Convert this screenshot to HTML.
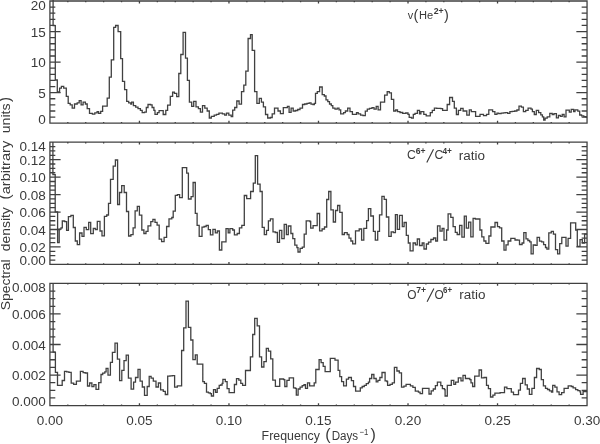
<!DOCTYPE html>
<html><head><meta charset="utf-8"><style>
html,body{margin:0;padding:0;background:#fff;overflow:hidden;}
svg{display:block;font-family:"Liberation Sans",sans-serif;will-change:transform;}
</style></head><body>
<svg width="600" height="444" viewBox="0 0 600 444">
<rect width="600" height="444" fill="#fff"/>
<g fill="none" stroke="#404040" stroke-width="1.3" stroke-linejoin="miter" stroke-linecap="butt">
<path d="M49.92 1.0H587.05V123.20H49.92ZM49.92 117.09L55.32 117.09M587.05 117.09L581.65 117.09M49.92 110.98L55.32 110.98M587.05 110.98L581.65 110.98M49.92 104.87L55.32 104.87M587.05 104.87L581.65 104.87M49.92 98.76L55.32 98.76M587.05 98.76L581.65 98.76M49.92 92.65L60.62 92.65M587.05 92.65L576.35 92.65M49.92 86.54L55.32 86.54M587.05 86.54L581.65 86.54M49.92 80.43L55.32 80.43M587.05 80.43L581.65 80.43M49.92 74.32L55.32 74.32M587.05 74.32L581.65 74.32M49.92 68.21L55.32 68.21M587.05 68.21L581.65 68.21M49.92 62.10L60.62 62.10M587.05 62.10L576.35 62.10M49.92 55.99L55.32 55.99M587.05 55.99L581.65 55.99M49.92 49.88L55.32 49.88M587.05 49.88L581.65 49.88M49.92 43.77L55.32 43.77M587.05 43.77L581.65 43.77M49.92 37.66L55.32 37.66M587.05 37.66L581.65 37.66M49.92 31.55L60.62 31.55M587.05 31.55L576.35 31.55M49.92 25.44L55.32 25.44M587.05 25.44L581.65 25.44M49.92 19.33L55.32 19.33M587.05 19.33L581.65 19.33M49.92 13.22L55.32 13.22M587.05 13.22L581.65 13.22M49.92 7.11L55.32 7.11M587.05 7.11L581.65 7.11M67.82 123.20L67.82 122.00M67.82 1.00L67.82 2.20M85.73 123.20L85.73 122.00M85.73 1.00L85.73 2.20M103.63 123.20L103.63 122.00M103.63 1.00L103.63 2.20M121.54 123.20L121.54 122.00M121.54 1.00L121.54 2.20M139.44 123.20L139.44 120.80M139.44 1.00L139.44 3.40M157.35 123.20L157.35 122.00M157.35 1.00L157.35 2.20M175.25 123.20L175.25 122.00M175.25 1.00L175.25 2.20M193.15 123.20L193.15 122.00M193.15 1.00L193.15 2.20M211.06 123.20L211.06 122.00M211.06 1.00L211.06 2.20M228.96 123.20L228.96 120.80M228.96 1.00L228.96 3.40M246.87 123.20L246.87 122.00M246.87 1.00L246.87 2.20M264.77 123.20L264.77 122.00M264.77 1.00L264.77 2.20M282.68 123.20L282.68 122.00M282.68 1.00L282.68 2.20M300.58 123.20L300.58 122.00M300.58 1.00L300.58 2.20M318.49 123.20L318.49 120.80M318.49 1.00L318.49 3.40M336.39 123.20L336.39 122.00M336.39 1.00L336.39 2.20M354.29 123.20L354.29 122.00M354.29 1.00L354.29 2.20M372.20 123.20L372.20 122.00M372.20 1.00L372.20 2.20M390.10 123.20L390.10 122.00M390.10 1.00L390.10 2.20M408.01 123.20L408.01 120.80M408.01 1.00L408.01 3.40M425.91 123.20L425.91 122.00M425.91 1.00L425.91 2.20M443.82 123.20L443.82 122.00M443.82 1.00L443.82 2.20M461.72 123.20L461.72 122.00M461.72 1.00L461.72 2.20M479.62 123.20L479.62 122.00M479.62 1.00L479.62 2.20M497.53 123.20L497.53 120.80M497.53 1.00L497.53 3.40M515.43 123.20L515.43 122.00M515.43 1.00L515.43 2.20M533.34 123.20L533.34 122.00M533.34 1.00L533.34 2.20M551.24 123.20L551.24 122.00M551.24 1.00L551.24 2.20M569.15 123.20L569.15 122.00M569.15 1.00L569.15 2.20M49.92 142.2H587.05V264.40H49.92ZM49.92 260.04L55.32 260.04M587.05 260.04L581.65 260.04M49.92 255.67L55.32 255.67M587.05 255.67L581.65 255.67M49.92 251.31L55.32 251.31M587.05 251.31L581.65 251.31M49.92 246.94L60.62 246.94M587.05 246.94L576.35 246.94M49.92 242.58L55.32 242.58M587.05 242.58L581.65 242.58M49.92 238.21L55.32 238.21M587.05 238.21L581.65 238.21M49.92 233.85L55.32 233.85M587.05 233.85L581.65 233.85M49.92 229.49L60.62 229.49M587.05 229.49L576.35 229.49M49.92 225.12L55.32 225.12M587.05 225.12L581.65 225.12M49.92 220.76L55.32 220.76M587.05 220.76L581.65 220.76M49.92 216.39L55.32 216.39M587.05 216.39L581.65 216.39M49.92 212.03L60.62 212.03M587.05 212.03L576.35 212.03M49.92 207.66L55.32 207.66M587.05 207.66L581.65 207.66M49.92 203.30L55.32 203.30M587.05 203.30L581.65 203.30M49.92 198.94L55.32 198.94M587.05 198.94L581.65 198.94M49.92 194.57L60.62 194.57M587.05 194.57L576.35 194.57M49.92 190.21L55.32 190.21M587.05 190.21L581.65 190.21M49.92 185.84L55.32 185.84M587.05 185.84L581.65 185.84M49.92 181.48L55.32 181.48M587.05 181.48L581.65 181.48M49.92 177.11L60.62 177.11M587.05 177.11L576.35 177.11M49.92 172.75L55.32 172.75M587.05 172.75L581.65 172.75M49.92 168.39L55.32 168.39M587.05 168.39L581.65 168.39M49.92 164.02L55.32 164.02M587.05 164.02L581.65 164.02M49.92 159.66L60.62 159.66M587.05 159.66L576.35 159.66M49.92 155.29L55.32 155.29M587.05 155.29L581.65 155.29M49.92 150.93L55.32 150.93M587.05 150.93L581.65 150.93M49.92 146.56L55.32 146.56M587.05 146.56L581.65 146.56M67.82 264.40L67.82 263.20M67.82 142.20L67.82 143.40M85.73 264.40L85.73 263.20M85.73 142.20L85.73 143.40M103.63 264.40L103.63 263.20M103.63 142.20L103.63 143.40M121.54 264.40L121.54 263.20M121.54 142.20L121.54 143.40M139.44 264.40L139.44 262.00M139.44 142.20L139.44 144.60M157.35 264.40L157.35 263.20M157.35 142.20L157.35 143.40M175.25 264.40L175.25 263.20M175.25 142.20L175.25 143.40M193.15 264.40L193.15 263.20M193.15 142.20L193.15 143.40M211.06 264.40L211.06 263.20M211.06 142.20L211.06 143.40M228.96 264.40L228.96 262.00M228.96 142.20L228.96 144.60M246.87 264.40L246.87 263.20M246.87 142.20L246.87 143.40M264.77 264.40L264.77 263.20M264.77 142.20L264.77 143.40M282.68 264.40L282.68 263.20M282.68 142.20L282.68 143.40M300.58 264.40L300.58 263.20M300.58 142.20L300.58 143.40M318.49 264.40L318.49 262.00M318.49 142.20L318.49 144.60M336.39 264.40L336.39 263.20M336.39 142.20L336.39 143.40M354.29 264.40L354.29 263.20M354.29 142.20L354.29 143.40M372.20 264.40L372.20 263.20M372.20 142.20L372.20 143.40M390.10 264.40L390.10 263.20M390.10 142.20L390.10 143.40M408.01 264.40L408.01 262.00M408.01 142.20L408.01 144.60M425.91 264.40L425.91 263.20M425.91 142.20L425.91 143.40M443.82 264.40L443.82 263.20M443.82 142.20L443.82 143.40M461.72 264.40L461.72 263.20M461.72 142.20L461.72 143.40M479.62 264.40L479.62 263.20M479.62 142.20L479.62 143.40M497.53 264.40L497.53 262.00M497.53 142.20L497.53 144.60M515.43 264.40L515.43 263.20M515.43 142.20L515.43 143.40M533.34 264.40L533.34 263.20M533.34 142.20L533.34 143.40M551.24 264.40L551.24 263.20M551.24 142.20L551.24 143.40M569.15 264.40L569.15 263.20M569.15 142.20L569.15 143.40M49.92 283.4H587.05V405.60H49.92ZM49.92 397.96L55.32 397.96M587.05 397.96L581.65 397.96M49.92 390.32L55.32 390.32M587.05 390.32L581.65 390.32M49.92 382.69L55.32 382.69M587.05 382.69L581.65 382.69M49.92 375.05L60.62 375.05M587.05 375.05L576.35 375.05M49.92 367.41L55.32 367.41M587.05 367.41L581.65 367.41M49.92 359.77L55.32 359.77M587.05 359.77L581.65 359.77M49.92 352.14L55.32 352.14M587.05 352.14L581.65 352.14M49.92 344.50L60.62 344.50M587.05 344.50L576.35 344.50M49.92 336.86L55.32 336.86M587.05 336.86L581.65 336.86M49.92 329.22L55.32 329.22M587.05 329.22L581.65 329.22M49.92 321.59L55.32 321.59M587.05 321.59L581.65 321.59M49.92 313.95L60.62 313.95M587.05 313.95L576.35 313.95M49.92 306.31L55.32 306.31M587.05 306.31L581.65 306.31M49.92 298.67L55.32 298.67M587.05 298.67L581.65 298.67M49.92 291.04L55.32 291.04M587.05 291.04L581.65 291.04M67.82 405.60L67.82 404.40M67.82 283.40L67.82 284.60M85.73 405.60L85.73 404.40M85.73 283.40L85.73 284.60M103.63 405.60L103.63 404.40M103.63 283.40L103.63 284.60M121.54 405.60L121.54 404.40M121.54 283.40L121.54 284.60M139.44 405.60L139.44 403.20M139.44 283.40L139.44 285.80M157.35 405.60L157.35 404.40M157.35 283.40L157.35 284.60M175.25 405.60L175.25 404.40M175.25 283.40L175.25 284.60M193.15 405.60L193.15 404.40M193.15 283.40L193.15 284.60M211.06 405.60L211.06 404.40M211.06 283.40L211.06 284.60M228.96 405.60L228.96 403.20M228.96 283.40L228.96 285.80M246.87 405.60L246.87 404.40M246.87 283.40L246.87 284.60M264.77 405.60L264.77 404.40M264.77 283.40L264.77 284.60M282.68 405.60L282.68 404.40M282.68 283.40L282.68 284.60M300.58 405.60L300.58 404.40M300.58 283.40L300.58 284.60M318.49 405.60L318.49 403.20M318.49 283.40L318.49 285.80M336.39 405.60L336.39 404.40M336.39 283.40L336.39 284.60M354.29 405.60L354.29 404.40M354.29 283.40L354.29 284.60M372.20 405.60L372.20 404.40M372.20 283.40L372.20 284.60M390.10 405.60L390.10 404.40M390.10 283.40L390.10 284.60M408.01 405.60L408.01 403.20M408.01 283.40L408.01 285.80M425.91 405.60L425.91 404.40M425.91 283.40L425.91 284.60M443.82 405.60L443.82 404.40M443.82 283.40L443.82 284.60M461.72 405.60L461.72 404.40M461.72 283.40L461.72 284.60M479.62 405.60L479.62 404.40M479.62 283.40L479.62 284.60M497.53 405.60L497.53 403.20M497.53 283.40L497.53 285.80M515.43 405.60L515.43 404.40M515.43 283.40L515.43 284.60M533.34 405.60L533.34 404.40M533.34 283.40L533.34 284.60M551.24 405.60L551.24 404.40M551.24 283.40L551.24 284.60M569.15 405.60L569.15 404.40M569.15 283.40L569.15 284.60"/>
<path d="M53.1 0.0V25.7H55.3V80H57.3V92H59.6V88.2H61.4V86.4H63.7V88.2H66.3V96.4H68.2V103.4H70.2V104.9H72.2V108.1H74.5V104H77.2V102.8H79.2V100.7H81.1V104.9H83.1V102.2H85.4V104H87.2V108.7H89.5V113.4H92.4V114.2H94.8V112.8H97.1V111.6H98.6V113.4H100.7V111.3H102.6V106.2H107.2V98.2H109.3V77.2H111.3V59.8H113.7V27.3H115.6V25.5H118.1V31.7H120.7V58.6H122.5V81.4H124.6V89.7H126.7V101.4H128.7V102.8H130.8V104.2H131.6V102.2H133.4V105.7H135.7V107.2H138V108.6H140.4V110.4H142.2V112.7H144.5V112.2H146.3V107.5H148V104.5H150.6V104.8H152.1V107.5H153.9V110.4H155V114.3H157.4V112.7H159.1V110.7H163.2V114.5H165.8V110.4H167.6V105.1H170.3V96.3H172.6V92.2H174.4V93.4H176.7V96.7H178.8V73.5H180.8V54.5H183.1V32.3H185.5V58.1H187.4V80.3H189.4V102.2H191.7V106.3H193.7V101.4H196V106.9H198.4V108.6H200.4V112.2H202.5V105.7H204.8V108.1H207.2V111H209.3V118H211.3V116.3H214.2V115.1H216.5V114.3H218.9V113.1H222.4V113.9H224.7V115.1H226.5V113.1H228.8V115.1H231.2V116.6H232.7V110.2H234.7V107.5H236.8V101H239.1V104.2H241.5V91.7H243.8V85.2H245.8V71.2H248.1V38.5H250.5V34.6H252.2V50.4H254.6V91.7H256.9V103.4H259.3V98.3H261.4V102.2H263.4V106.9H265.5V114.5H267.7V118H270.4V117.5H272.2V113.9H274.5V108.1H278V111H280.4V113.6H283.3V107.7H287.4V106.3H289.1V112.4H291.1V108.1H293.2V111H295.5V110.5H297.7V109.5H300V108.1H302.5V104.5H304.7V104H307V103.3H309.2V102.8H311V104.2H313V104.5H314.4V103.4H315.5V93.4H317.3V91.7H319.6V87H322.2V94.6H324.3V96H326V99.9H327.8V101.6H329.5V104H331.3V105.7H332.8V108.1H335V109.2H337.2V108.1H339V109.8H340.7V113.9H343.6V112.7H345.4V111H347.7V108.1H350V111.6H352.4V114.3H356.5V112.7H358.2V113.9H360.6V115.1H363V115.7H365.3V111.2H367.3V109.2H369.5V108.4H372V107.7H374V109.2H376.2V106.3H378.1V109.8H380.5V102.2H384.6V95.2H387.2V91.7H389.3V92.8H391.4V99.3H393.7V111H395.7V110H397.5V111.6H400V112.5H402.7V113.3H405.7V113H408V114.3H409.2V117.4H411.5V118.2H413.3V114.3H415V113.3H417.4V110.4H419.5V113.9H420.9V111.6H423.8V114.3H426.2V115.9H430.3V112.7H432.3V110.4H434.4V108.1H436.7V108.4H440.8V108.6H442.6V110.4H447.2V104.5H449.6V97.5H452.5V101.4H454.3V108.1H456.4V114.5H458.4V110.4H460.7V108.4H463.1V111H466.8V115.1H469.3V109.8H471.3V111.6H475.6V116.3H480V114.3H483.5V115.7H486.5V114.3H488.8V109.8H492.6V111.6H494.9V114.3H497V113.1H498.8V113.6H501.1V113.1H503.3V112.8H505.2V112.7H507.6V113.3H509.9V111.6H512.2V111.3H514.6V111H516.9V110H519V106.1H521.4V107.2H523.4V111.6H525.7V110.4H528.1V108.1H531V109.2H532.4V111.6H534.3V114.5H536.3V110.4H538.6V112.7H540.8V114.8H542.4V116.8H543.7V120H545.1V118.2H547.2V116.9H549.8V113.3H552.2V114.5H554V113.7H556.4V117.9H558.4V115.3H560.3V116.4H562.2V114.5H564.1V116.9H566V110.2H569.3V112.1H571.2V109.3H573.6V111.7H575V109.8H577.8V111.2H579.7V115H581.6V115.9H583.8V116.6H586.3V117.3H587.1"/><path d="M52.9 142.1V174.6H55.2V211.8H57.6V242.7H59.2V229.1H61V227.8H62.3V221H64.7V221.6H66.6V230.3H68.4V216.7H70.9V215.4H73.3V227.5H75.3V241H77.3V244.7H79.6V233H82V236.3H84V227.4H86.3V229.7H88.7V222.3H90.7V233.7H93.3V228.3H95.3V229.5H97.3V221.3H100V231H102V235.9H104.4V216.3H106.7V215H108.5V203.4H110.5V179.3H113.2V166.1H115.4V160H117.6V204.5H119.5V192.5H121.7V185.6H124.2V192.5H126.5V211.5H128.6V236H130.9V234.6H133.1V227.9H135.1V210.9H137.3V206.3H139.4V215.1H141.8V230H143.9V233.5H146V231.4H148V225.8H150.8V221.6H152.9V219.3H155V222.3H157.1V225.1H159.2V239.1H161.6V241.6H164.1V237.4H166.6V226.5H169V218.9H171.8V217.5H173.2V211.2H175.3V195.4H177.4V194.7H179.6V197.6H182.3V167.6H186.7V173.1H188.4V199H191.1V196.6H193.1V182.5H195.3V213.4H197.1V225.4H199.2V236.3H202V227.2H204.1V226.5H206.2V225.4H208.3V229.6H210.4V234.9H212.9V229.3H215.3V232.8H217.3V231H219.4V250H221.8V241.9H226V228.6H228.2V232.8H229.9V228.6H232.7V230H234.4V234.9H237.2V233.5H239.4V227.9H241.8V225.4H244.3V195.5H246.7V198.6H250.6V191.5H253.3V183.2H255.3V155.6H257.6V184.1H260.1V191.5H262.2V227.3H264.3V234.6H266.5V230.4H268.4V220.8H270.4V218.9H273V231.9H275.3V232.5H277.4V242.3H279.5V230.3H281.8V238.7H284.2V224.4H286.4V234.6H288.3V226H290.9V233.5H292.8V238.7H294.8V245.2H296.9V247.6H298V252H300.1V248.4H302.3V247.1H304.2V234.2H306.2V220.8H309.9V221.5H310.7V228.1H313.1V225.7H317.2V213.5H319.6V230.9H322.1V229H324.5V227H326.7V199.5H328.7V191.5H330.9V209.8H333.3V222H335.5V210.5H337.6V205.5H339.8V212.3H342.2V234.5H344.4V232.7H347.2V234.5H349V238.2H350.9V241H352.7V243.8H355.5V230.8H359.2V229H361.6V240.1H363.8V228.4H366.6V220.7H368.4V208.7H370.8V216H373.4V231.4H375.3V240.1H377.7V231.4H379.5V214.8H381.9V196.3H384.2V199.4H386.4V217H388.8V236.4H391.2V231.8H393.4V232.7H395.4V214.6H397.3V229.4H399.5V215.4H402.3V226.7H404.1V222.5H406.3V235.4H408.3V243H410.1V250.8H413.1V243H415.4V244.8H417.3V239H419.5V245.5H422.2V243H424V249H426.4V244H428.5V242.1H430.9V239.5H433.5V238H435.7V241H437.5V225.9H440V231.2H442.1V228.5H444V240.2H446.6V230H448.1V213.9H450.8V217.3H453.1V226.7H455.3V232.4H457.2V234.5H459.6V225.4H461.9V237.2H464.3V216.1H466.3V228.2H468.6V222.1H470.8V236.9H473.1V218.4H475.3V219H479.9V230H481.8V236.9H483.9V241H485.9V243.3H488.9V236H490.9V227H495V222.5H497.5V226.7H499.5V227.9H501.7V241H504V250.1H506V244.8H508.1V241H510.8V238.4H515V240H517.6V240.2H519.5V244.5H522.1V243H523.8V232.6H526V238.8H527.9V240.5H529.7V241.9H531.1V253.8H533.2V245H535.3V245.4H537.1V237.4H539.5V241.2H541.6V241.9H543.6V244.7H545.5V247.5H546.9V249.2H548.8V232.8H551.3V231.4H553.4V234.2H555.5V249.6H557.6V253.8H559.7V243.6H561.8V237.4H566V246.1H568.1V238.4H570.6V222.8H575.7V230.1H577.3V246.4H580V239.7H582.3V243H584.6V234.2H587.1"/><path d="M53.1 283.4V352.2H55.4V372.4H57.5V385.3H62.2V380.5H64.5V371.4H66.7V371.8H68.9V372.4H71.2V383.2H73.7V384.3H76.4V381.2H80.4V371.4H83.1V372.7H85.2V373H87.5V386H89.6V383H91.9V386.6H93.9V384.6H96V389.3H98.7V382.6H101V374.5H102.7V373.1H104.8V371.8H106.1V368.4H108V375.2H110.4V362.4H112.4V352.4H115V343.1H117.4V359.2H119.6V380.7H121.8V370.4H124V360.6H126.2V355.2H128.4V378.2H131.1V389.2H133.6V382.1H135.5V377.5H138V369.4H140.1V381.1H142.3V387H144.5V395.3H147.2V386.5H149.2V376.3H151.1V378.2H153.3V381.1H156V387H158.4V383H160.6V389.9H163.3V391.4H165.3V394.5H167.7V376.2H170V375.8H172.3V375.6H174.6V387.1H177.3V385.9H181.6V350.5H183.7V327.8H186V301.2H188.4V327.4H190.8V340H192.9V359.6H195.3V354.9H197.2V364.2H202.8V381.6H204.4V383.4H206.5V392.1H208.4V392.8H210.2V393.6H211.4V396H213.5V389.6H215.5V392.3H217.2V388.4H219.2V385.3H220.6V385H222.1V383.4H222.9V379.3H225.3V381.6H227.1V388.6H229.1V392.7H234.4V384.5H236.5V378.7H238.8V380.2H240.8V383.4H242.6V385.4H245.5V370.5H250.4V356.9H252.7V334.5H254.7V318.4H257.2V325.8H259.5V356.9H261.6V367H263.9V361.7H266.3V348.3H268.4V351.1H270.7V358.8H272.8V380.2H275.4V386.3H279.7V379H283.6V379.6H284.8V386.5H286.9V380.3H289.2V377.8H293.5V387.8H295.3V388.4H296.3V395.2H298.1V389H300.1V387.1H302.2V385.6H304V384.7H305.5V388.4H307.5V382.8H309.6V385.9H314.2V382.8H315.8V369.5H319.1V359.6H321.1V362.6H323.2V366.3H325.1V371.6H330.3V358.4H335V360.1H338.1V370.4H339.8V376.6H341.6V381.6H343.6V385.9H346.4V379.1H348.5V377.5H351.4V380.7H353.5V386.5H355.6V391.1H360.3V387.8H362.2V386.5H364.3V385.3H366.3V383.7H368.4V382.2H369.6V378.5H371.7V374.5H373.9V378.5H376.2V381.9H377.9V380.3H379.9V377.5H382V372.5H385.1V380.9H386.9V381.5H387.6V385.3H390V384.4H392.3V382.8H394.4V367.3H396.9V371H399.3V372.9H401.5V387.1H403.9V386.1H406.1V384.4H410.4V385.9H412.9V387.4H415.3V391.1H418.4V392.1H420.1V393.6H422.5V388.4H429V394H431.2V390.8H433.3V389H435.4V385.6H437.4V382.2H440.8V385.6H442.4V388.6H444.5V389.6H445.1V396H447.3V385.3H451.3V380.3H453.8V384.4H455.6V382.2H458.3V377.8H461V380.9H463V375.4H465.4V378.5H469.8V379.7H471V382.8H472.6V386.5H474.7V376.2H479.1V370H481.5V377.8H484V377.5H486.5V385.3H488.4V388.6H490.5V397H492.9V395.2H494.9V393.1H500.1V392.7H504.5V387.1H506.9V388.6H511.3V392.1H513.5V394.6H518.5V390.2H520.4V383.4H522.6V378.5H525.2V384.9H527.3V389H529.4V394.3H531.9V388.4H534.4V377.5H536.6V368.5H539.3V369.5H541.3V379.7H543.4V385.9H545.5V388.4H547.5V389.5H549.5V390.8H551.5V392.1H552.7V385.3H554.9V387.1H557V391.8H559.1V394.6H561.6V392.7H564.1V388.4H568.2V385.9H571.3V386.5H573.1V387.8H575.6V389.6H577.8V390.7H580V391.8H580.6V394.3H583.1V391.5H587.1"/>
</g>
<path d="M426.8 162.5L433.5 149.2M427.1 301.8L433.9 288.4" stroke="#3a3a3a" stroke-width="1.15" fill="none"/>
<g fill="#3a3a3a">
<text x="45.8" y="123.60" text-anchor="end" font-size="13.5">0</text>
<text x="45.8" y="97.95" text-anchor="end" font-size="13.5">5</text>
<text x="45.8" y="67.40" text-anchor="end" font-size="13.5">10</text>
<text x="45.8" y="36.85" text-anchor="end" font-size="13.5">15</text>
<text x="45.8" y="10.00" text-anchor="end" font-size="13.5">20</text>
<text x="45.8" y="264.80" text-anchor="end" font-size="13.5">0.00</text>
<text x="45.8" y="252.24" text-anchor="end" font-size="13.5">0.02</text>
<text x="45.8" y="234.79" text-anchor="end" font-size="13.5">0.04</text>
<text x="45.8" y="217.33" text-anchor="end" font-size="13.5">0.06</text>
<text x="45.8" y="199.87" text-anchor="end" font-size="13.5">0.08</text>
<text x="45.8" y="182.41" text-anchor="end" font-size="13.5">0.10</text>
<text x="45.8" y="164.96" text-anchor="end" font-size="13.5">0.12</text>
<text x="45.8" y="151.20" text-anchor="end" font-size="13.5">0.14</text>
<text x="45.8" y="406.00" text-anchor="end" font-size="13.5">0.000</text>
<text x="45.8" y="380.35" text-anchor="end" font-size="13.5">0.002</text>
<text x="45.8" y="349.80" text-anchor="end" font-size="13.5">0.004</text>
<text x="45.8" y="319.25" text-anchor="end" font-size="13.5">0.006</text>
<text x="45.8" y="292.40" text-anchor="end" font-size="13.5">0.008</text>
<text x="49.92" y="424.7" text-anchor="middle" font-size="13.5">0.00</text>
<text x="139.44" y="424.7" text-anchor="middle" font-size="13.5">0.05</text>
<text x="228.96" y="424.7" text-anchor="middle" font-size="13.5">0.10</text>
<text x="318.49" y="424.7" text-anchor="middle" font-size="13.5">0.15</text>
<text x="408.01" y="424.7" text-anchor="middle" font-size="13.5">0.20</text>
<text x="497.53" y="424.7" text-anchor="middle" font-size="13.5">0.25</text>
<text x="587.05" y="424.7" text-anchor="middle" font-size="13.5">0.30</text>
<text x="261.6" y="440" font-size="12.3" textLength="58.4" lengthAdjust="spacingAndGlyphs">Frequency</text>
<text x="325.3" y="440.1" font-size="16">(</text>
<text x="331.7" y="440" font-size="12.3" textLength="26.5" lengthAdjust="spacingAndGlyphs">Days</text>
<text x="359.5" y="435.2" font-size="9" textLength="8.8" lengthAdjust="spacingAndGlyphs">&#8722;1</text>
<text x="370.4" y="440.1" font-size="16">)</text>
<g font-size="12.3">
<text transform="translate(10.1,310.3) rotate(-90)" textLength="51" lengthAdjust="spacingAndGlyphs">Spectral</text>
<text transform="translate(10.1,251.2) rotate(-90)" textLength="44" lengthAdjust="spacingAndGlyphs">density</text>
<text transform="translate(10.1,199.6) rotate(-90)" font-size="15">(</text>
<text transform="translate(10.1,194.3) rotate(-90)" textLength="53.6" lengthAdjust="spacingAndGlyphs">arbitrary</text>
<text transform="translate(10.1,133.3) rotate(-90)" textLength="29.8" lengthAdjust="spacingAndGlyphs">units</text>
<text transform="translate(10.1,102) rotate(-90)" font-size="15">)</text>
</g>
<text x="407.8" y="19.2" font-size="11.7" textLength="5.5" lengthAdjust="spacingAndGlyphs">v</text>
<text x="413.6" y="20.4" font-size="14.5">(</text>
<text x="419.1" y="19.2" font-size="11.7" textLength="14.2" lengthAdjust="spacingAndGlyphs">He</text>
<text x="433.7" y="13.7" font-size="8.3" font-weight="bold" textLength="10" lengthAdjust="spacingAndGlyphs">2+</text>
<text x="444.1" y="20.4" font-size="14.5">)</text>
<text x="407.1" y="159.4" font-size="12.2">C</text>
<text x="415.8" y="153.7" font-size="8.3" font-weight="bold" textLength="9.8" lengthAdjust="spacingAndGlyphs">6+</text>
<text x="434.4" y="159.4" font-size="12.2">C</text>
<text x="442.4" y="153.5" font-size="8.3" font-weight="bold" textLength="9.4" lengthAdjust="spacingAndGlyphs">4+</text>
<text x="458.8" y="159.5" font-size="12" textLength="26.2" lengthAdjust="spacingAndGlyphs">ratio</text>
<text x="407.3" y="299.1" font-size="11.9">O</text>
<text x="416.2" y="292.5" font-size="8.3" font-weight="bold" textLength="9.8" lengthAdjust="spacingAndGlyphs">7+</text>
<text x="434.4" y="299.1" font-size="11.9">O</text>
<text x="443.1" y="292.7" font-size="8.3" font-weight="bold" textLength="9" lengthAdjust="spacingAndGlyphs">6+</text>
<text x="459.3" y="299.4" font-size="12" textLength="26.2" lengthAdjust="spacingAndGlyphs">ratio</text>
</g>
</svg>
</body></html>
